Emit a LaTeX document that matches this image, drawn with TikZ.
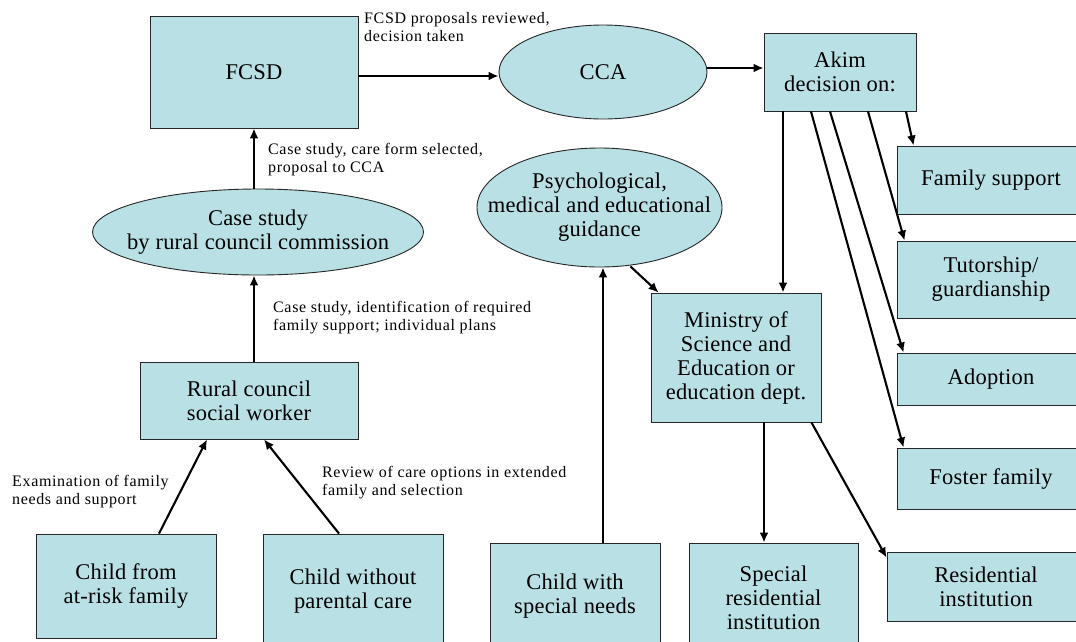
\documentclass[tikz,border=0pt]{standalone}
\usepackage{fontspec}
\setmainfont{Liberation Serif}
\newfontfamily\boxfam{Liberation Serif}[LetterSpace=1.0]
\newfontfamily\notefam{Liberation Serif}[LetterSpace=4.0]
\usetikzlibrary{shapes.geometric,arrows.meta}
\definecolor{boxblue}{RGB}{185,224,228}
\tikzset{
  box/.style={draw=black!85, fill=boxblue, line width=0.9pt, inner sep=0pt,
    align=center, font=\boxfam\fontsize{22.5}{24}\selectfont},
  oval/.style={box, ellipse, inner xsep=-30pt, inner ysep=0pt},
  note/.style={anchor=north west, inner sep=0pt, align=left,
    font=\notefam\fontsize{16}{18}\selectfont},
  flow/.style={-{Latex[length=10pt,width=9pt]}, line width=2.1pt},
}
\begin{document}
\begin{tikzpicture}[x=1pt,y=-1pt]
  \useasboundingbox (0,0) rectangle (1076,641);
  \clip (0,0) rectangle (1076,641);
  \node[box, minimum width=208pt, minimum height=112pt] (fcsd) at (254,72) {FCSD};
  \node[oval, minimum width=208pt, minimum height=94pt] (cca) at (603,72) {CCA};
  \node[box, minimum width=152pt, minimum height=78pt] (akim) at (840,72) {Akim\\decision on:};
  \node[box, minimum width=188pt, minimum height=68pt] (famsup) at (991,180) {Family support};
  \node[box, minimum width=188pt, minimum height=77pt] (tutor) at (991,279.5) {Tutorship/\\guardianship};
  \node[box, minimum width=188pt, minimum height=52pt] (adopt) at (991,379) {Adoption};
  \node[box, minimum width=188pt, minimum height=61pt] (foster) at (991,478.5) {Foster family};
  \node[box, minimum width=198pt, minimum height=69pt] (resid) at (986,586.5) {Residential\\institution};
  \node[oval, minimum width=331pt, minimum height=86pt] (casestudy) at (258,232) {Case study\\by rural council commission};
  \node[oval, minimum width=245pt, minimum height=119pt] (psych) at (599.5,207.5) {Psychological,\\medical and educational\\guidance};
  \node[box, minimum width=170pt, minimum height=129pt] (ministry) at (736,357.5) {Ministry of\\Science and\\Education or\\education dept.};
  \node[box, minimum width=218pt, minimum height=77pt] (rural) at (249,400.5) {Rural council\\social worker};
  \node[box, minimum width=180pt, minimum height=104pt] (atrisk) at (126,586) {Child from\\at-risk family};
  \node[box, minimum width=180pt, minimum height=114pt] (noparent) at (353,591) {Child without\\parental care};
  \node[box, minimum width=170pt, minimum height=107pt] (special) at (575,596.5) {Child with\\special needs};
  \node[box, minimum width=169pt, minimum height=109pt] (specres) at (773.5,597.5) {Special\\residential\\institution};

  \node[note] (lblfcsd) at (364,12) {FCSD proposals reviewed,\\decision taken};
  \node[note] (lblcca) at (268,143) {Case study, care form selected,\\proposal to CCA};
  \node[note] (lblcase) at (273,301) {Case study, identification of required\\family support; individual plans};
  \node[note] (lblexam) at (12,475) {Examination of family\\needs and support};
  \node[note] (lblreview) at (322,466) {Review of care options in extended\\family and selection};

  \draw[flow] ([yshift=-4pt]fcsd.east) -- ([yshift=-4pt]fcsd.east -| cca.west);
  \draw[flow] ([yshift=4pt]cca.east) -- ([yshift=4pt]cca.east -| akim.west);
  \draw[flow] (casestudy.north -| fcsd.south) -- (fcsd.south);
  \draw[flow] (rural.north -| fcsd.south) -- (casestudy.south -| fcsd.south);
  \draw[flow] ([xshift=33pt]atrisk.north) -- ([xshift=-42pt]rural.south);
  \draw[flow] ([xshift=-14pt]noparent.north) -- ([xshift=15pt]rural.south);
  \draw[flow] ([xshift=28pt]special.north) -- ([xshift=28pt]special.north |- psych.south);
  \draw[flow] ([xshift=31pt,yshift=1pt]psych.south) -- ([xshift=8pt]ministry.north west);
  \draw[flow] ([xshift=-57pt]akim.south) -- ([xshift=-57pt]akim.south |- ministry.north);
  \draw[flow] ([xshift=-29pt]akim.south) -- ([xshift=7pt]foster.north west);
  \draw[flow] ([xshift=-10pt]akim.south) -- ([xshift=7pt]adopt.north west);
  \draw[flow] ([xshift=28pt]akim.south) -- ([xshift=8pt]tutor.north west);
  \draw[flow] ([xshift=66pt]akim.south) -- ([xshift=17pt]famsup.north west);
  \draw[flow] ([xshift=28pt]ministry.south) -- ([xshift=28pt]ministry.south |- specres.north);
  \draw[flow] ([xshift=-10pt]ministry.south east) -- ([yshift=-6pt]resid.north west);
\end{tikzpicture}
\end{document}
